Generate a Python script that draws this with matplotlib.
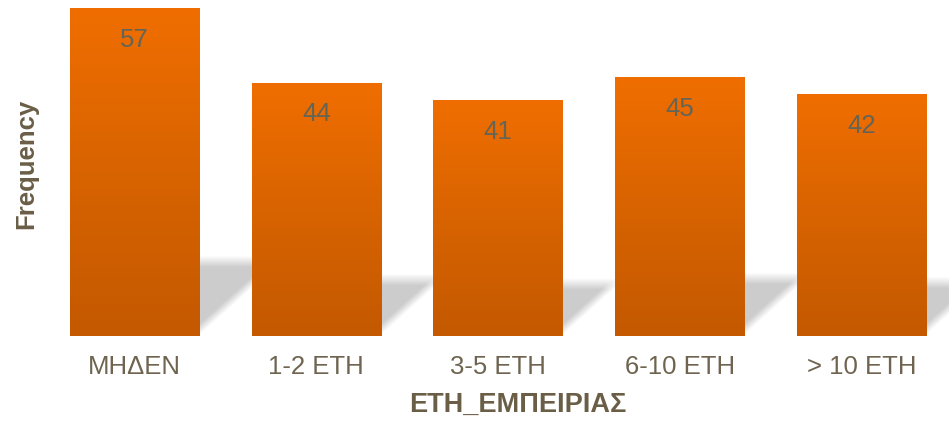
import numpy as np
import matplotlib.pyplot as plt
from matplotlib.colors import LinearSegmentedColormap

categories = ["ΜΗΔΕΝ", "1-2 ΕΤΗ", "3-5 ΕΤΗ", "6-10 ΕΤΗ", "> 10 ΕΤΗ"]
counts = [57, 44, 41, 45, 42]
xlabel = "ΕΤΗ_ΕΜΠΕΙΡΙΑΣ"
ylabel = "Frequency"

plt.rcParams['font.family'] = ['Liberation Sans', 'DejaVu Sans']

fig = plt.figure(figsize=(9.49, 4.21), dpi=100)
ax = fig.add_axes([0, 85 / 421, 1, 336 / 421])

xmin, xmax = -134.5 / 181.75, (949 - 134.5) / 181.75
ymax = 58.5
ax.set_xlim(xmin, xmax)
ax.set_ylim(0, ymax)

width = 0.71
x = np.arange(len(categories))

# shadow cast back and to the right of each bar
gx = np.linspace(xmin, xmax, 949)
gy = np.linspace(0, ymax, 336)
X, Y = np.meshgrid(gx, gy)
k = 0.0351          # skew (category units per y unit)
ft, fs = 2.0, 0.07  # soft edges
shade = np.zeros_like(X)
for xi, v in zip(x, counts):
    hs = 0.245 * v
    x0, x1 = xi - width / 2, xi + width / 2
    top = np.clip((hs - Y) / ft, 0, 1)
    right = np.clip((x1 + k * Y - X) / fs, 0, 1)
    left = np.clip((X - x0 - k * Y) / fs, 0, 1)
    shade = np.maximum(shade, top * right * left)
rgba = np.zeros(X.shape + (4,))
rgba[..., 3] = 0.2 * shade
ax.imshow(rgba, extent=(xmin, xmax, 0, ymax), origin='lower', aspect='auto',
          zorder=1, interpolation='bilinear')

# bars with vertical gradient
cmap = LinearSegmentedColormap.from_list("bar", ["#C45900", "#D86300", "#F06E00"])
grad = np.linspace(0, 1, 256).reshape(-1, 1)
for xi, v in zip(x, counts):
    ax.imshow(grad, cmap=cmap, extent=(xi - width / 2, xi + width / 2, 0, v),
              origin='lower', aspect='auto', zorder=2)
    ax.annotate(str(v), (xi, v), xytext=(0, -31), textcoords='offset pixels',
                ha='center', va='center', fontsize=18.5, color='#646457', zorder=3)

ax.set_xticks(x)
ax.set_xticklabels(categories, fontsize=18.5, color='#6E6450')
ax.tick_params(axis='x', length=0, pad=14)
ax.set_yticks([])
for s in ax.spines.values():
    s.set_visible(False)

fig.text(517.5 / 949, 1 - 405 / 421, xlabel, ha='center', va='center',
         fontsize=19.5, fontweight='bold', color='#6B5E47')
fig.text(26.5 / 949, 1 - 163.5 / 421, ylabel, ha='center', va='center', rotation=90,
         fontsize=18.5, fontweight='bold', color='#6B5E47')

fig.savefig("out.png", dpi=100)
